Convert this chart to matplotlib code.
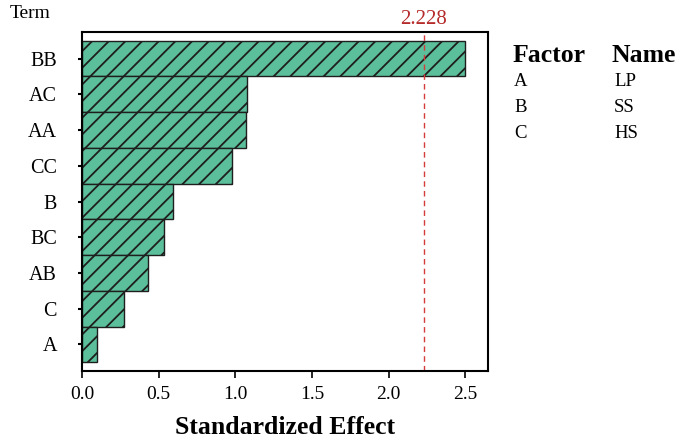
import matplotlib
matplotlib.use("Agg")
import matplotlib.pyplot as plt

# Pareto chart of standardized effects
terms = ["BB", "AC", "AA", "CC", "B", "BC", "AB", "C", "A"]
effects = [2.497, 1.075, 1.07, 0.98, 0.595, 0.536, 0.43, 0.275, 0.098]
critical_value = 2.228
x_ticks = [0.0, 0.5, 1.0, 1.5, 2.0, 2.5]

factors = ["A", "B", "C"]
names = ["LP", "SS", "HS"]

plt.rcParams["font.family"] = ["Liberation Serif", "DejaVu Serif"]
plt.rcParams["hatch.linewidth"] = 1.3


def main():
    fig = plt.figure(figsize=(6.8, 4.4), dpi=100)
    ax = fig.add_axes([0.1206, 0.157, 0.5970, 0.770])

    ypos = list(range(len(terms)))[::-1]
    ax.barh(ypos, effects, height=1.0, color="#5bbf9b",
            edgecolor="#1e1e1e", linewidth=1.0, hatch="//")

    ax.axvline(critical_value, color="#d43c3c", linestyle=(0, (4, 3)),
               linewidth=1.0)
    ax.text(critical_value, 1.01, f"{critical_value:.3f}",
            transform=ax.get_xaxis_transform(), ha="center", va="bottom",
            color="#b52a2a", fontsize=15)

    ax.set_xlim(0, 2.647)
    ax.set_ylim(-0.74, len(terms) - 1 + 0.74)
    ax.set_xticks(x_ticks)
    ax.set_xticklabels([f"{v:.1f}" for v in x_ticks], fontsize=14)
    ax.set_yticks(ypos)
    ax.set_yticklabels(terms, fontsize=14.5)
    ax.tick_params(axis="x", direction="out", length=5, width=1.2, pad=6)
    ax.tick_params(axis="y", direction="out", length=3, width=1.5, pad=15)
    for s in ax.spines.values():
        s.set_linewidth(1.5)
        s.set_color("black")

    ax.set_xlabel("Standardized Effect", fontsize=18.5, fontweight="bold",
                  labelpad=9)
    fig.text(10 / 680, 1 - 14 / 440, "Term", fontsize=14, ha="left",
             va="center")

    # factor/name table
    fig.text(513 / 680, 1 - 56 / 440, "Factor", fontsize=18.5,
             fontweight="bold", va="center")
    fig.text(612 / 680, 1 - 56 / 440, "Name", fontsize=18.5,
             fontweight="bold", va="center")
    for i, (f, n) in enumerate(zip(factors, names)):
        y = 1 - (82 + i * 25.5) / 440
        fig.text(514 / 680, y, f, fontsize=13.5, va="center")
        fig.text(614 / 680, y, n, fontsize=13.5, va="center")

    fig.savefig("out.png", dpi=100)


if __name__ == "__main__":
    main()
